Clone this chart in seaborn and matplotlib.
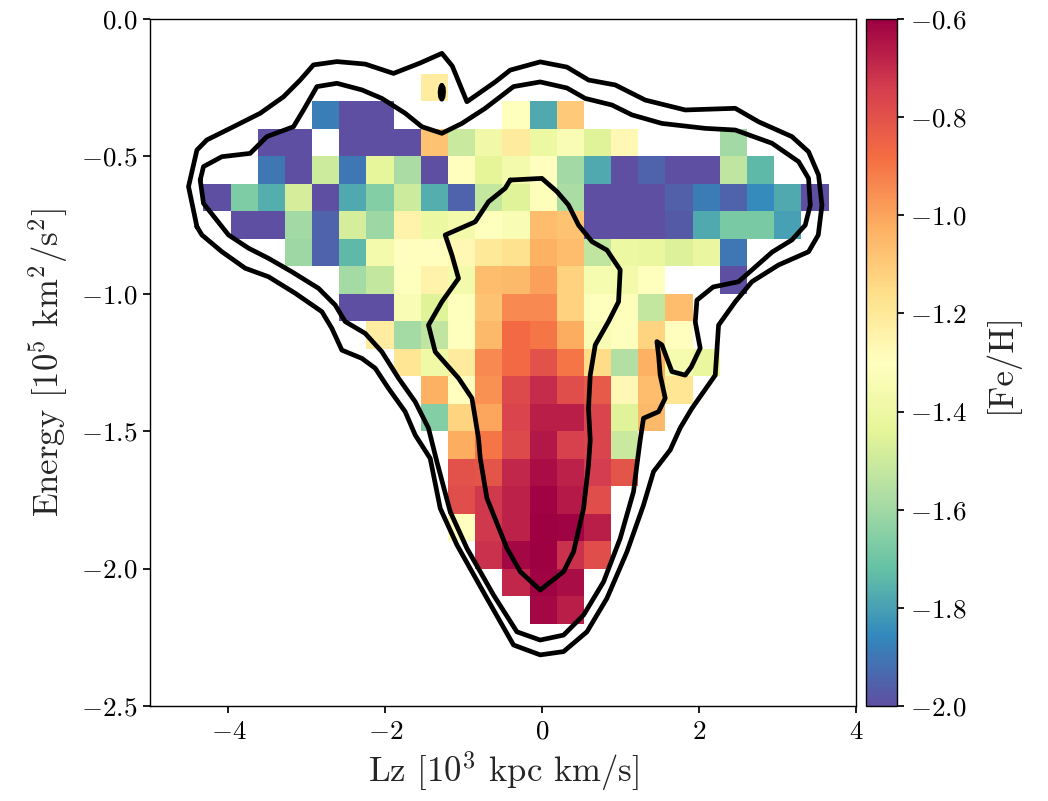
import numpy as np
import matplotlib
matplotlib.use("Agg")
import matplotlib.pyplot as plt
import seaborn as sns

_ = np.nan

# ---- binned mean [Fe/H] in the (Lz, Energy) plane ----
lz_edges = np.linspace(-4.32, 3.65, 24)      # 10^3 kpc km/s
energy_edges = np.linspace(-0.2, -2.2, 21)   # 10^5 km^2/s^2 (top row first)

feh_rows = [
    [_, _, _, _, _, _, _, _, -1.22, _, _, _, _, _, _, _, _, _, _, _, _, _, _],
    [_, _, _, _, -1.88, -2.0, -2.0, _, _, _, _, -1.31, -1.78, -1.10, _, _, _, _, _, _, _, _, _],
    [_, _, -2.0, -2.0, _, -2.0, -2.0, -2.0, -1.08, -1.51, -1.38, -1.21, -1.40, -1.34, -1.45, -1.27, _, _, _, -1.60, _, _, _],
    [_, _, -1.90, -2.0, -1.50, -1.90, -1.43, -1.58, -2.0, -1.30, -1.44, -1.37, -1.30, -1.60, -1.78, -2.0, -1.95, -2.0, -2.0, -1.53, -1.74, _, _],
    [-2.0, -1.67, -1.77, -1.48, -2.0, -1.78, -1.66, -1.50, -1.77, -1.95, -1.52, -1.45, -1.32, -1.58, -2.0, -2.0, -2.0, -1.96, -1.89, -1.95, -1.85, -1.78, -2.0],
    [_, -2.0, -2.0, -1.60, -1.95, -1.48, -1.61, -1.24, -1.40, -1.37, -1.31, -1.34, -1.06, -1.08, -2.0, -2.0, -2.0, -1.97, -1.78, -1.68, -1.68, -1.80, _],
    [_, _, _, -1.61, -1.95, -1.74, -1.37, -1.30, -1.30, -1.27, -1.20, -1.17, -1.03, -1.06, -1.53, -1.40, -1.42, -1.46, -1.41, -1.90, _, _, _],
    [_, _, _, _, _, -1.59, -1.52, -1.31, -1.24, -1.37, -1.06, -1.05, -0.99, -1.12, -1.36, -1.37, -1.31, _, _, -2.0, _, _, _],
    [_, _, _, _, _, -2.0, -2.0, -1.34, -1.45, -1.31, -1.08, -0.94, -0.94, -1.12, -1.31, -1.32, -1.52, -1.06, _, _, _, _, _],
    [_, _, _, _, _, _, -1.22, -1.59, -1.53, -1.31, -1.05, -0.87, -0.90, -1.02, -1.34, -1.31, -1.13, -1.30, _, _, _, _, _],
    [_, _, _, _, _, _, _, -1.19, -1.39, -1.21, -0.94, -0.87, -0.80, -0.90, -1.15, -1.56, -1.03, -1.36, -1.42, _, _, _, _],
    [_, _, _, _, _, _, _, _, -1.03, -1.30, -0.96, -0.78, -0.70, -0.79, -0.82, -1.27, -1.06, -1.19, _, _, _, _, _],
    [_, _, _, _, _, _, _, _, -1.66, -1.13, -1.00, -0.76, -0.67, -0.67, -0.76, -1.45, -1.05, _, _, _, _, _, _],
    [_, _, _, _, _, _, _, _, _, -1.02, -0.90, -0.78, -0.65, -0.75, -0.76, -1.51, _, _, _, _, _, _, _],
    [_, _, _, _, _, _, _, _, _, -0.80, -0.81, -0.69, -0.63, -0.68, -0.74, -0.81, _, _, _, _, _, _, _],
    [_, _, _, _, _, _, _, _, _, -0.79, -0.73, -0.68, -0.61, -0.66, -0.79, _, _, _, _, _, _, _, _],
    [_, _, _, _, _, _, _, _, _, -1.30, -0.73, -0.68, -0.60, -0.61, -0.67, _, _, _, _, _, _, _, _],
    [_, _, _, _, _, _, _, _, _, _, -0.71, -0.62, -0.60, -0.71, -0.79, _, _, _, _, _, _, _, _],
    [_, _, _, _, _, _, _, _, _, _, _, -0.69, -0.61, -0.63, _, _, _, _, _, _, _, _, _],
    [_, _, _, _, _, _, _, _, _, _, _, _, -0.62, -0.67, _, _, _, _, _, _, _, _, _],
]

# ---- density contours (traced) ----
outer_lz = [-4.402, -4.509, -4.402, -4.275, -3.936, -3.595, -3.298, -3.085, -2.916, -2.617,
            -2.257, -1.896, -1.555, -1.279, -1.147, -0.960, -0.599, -0.408, -0.026, 0.315,
            0.590, 0.931, 1.313, 1.823, 2.461, 2.758, 3.183, 3.395, 3.523, 3.566,
            3.519, 3.395, 3.013, 2.673, 2.461, 2.248, 2.206, 1.908, 1.759, 1.632,
            1.419, 1.291, 1.080, 0.825, 0.570, 0.272, -0.026, -0.366, -0.705, -1.087,
            -1.300, -1.428, -1.619, -1.747, -1.960, -2.129, -2.299, -2.554, -2.681, -2.809,
            -3.149, -3.489, -3.786, -4.083, -4.338]
outer_e = [-0.756, -0.610, -0.477, -0.440, -0.392, -0.343, -0.283, -0.222, -0.167, -0.155,
           -0.164, -0.198, -0.160, -0.125, -0.171, -0.301, -0.229, -0.186, -0.156, -0.175,
           -0.222, -0.240, -0.295, -0.331, -0.325, -0.374, -0.428, -0.483, -0.568, -0.677,
           -0.786, -0.847, -0.895, -0.956, -1.029, -1.114, -1.296, -1.417, -1.488, -1.568,
           -1.647, -1.769, -1.939, -2.108, -2.230, -2.302, -2.314, -2.278, -2.108, -1.914,
           -1.781, -1.599, -1.514, -1.429, -1.344, -1.271, -1.235, -1.205, -1.126, -1.065,
           -0.998, -0.938, -0.907, -0.847, -0.786]

middle_lz = [-4.360, -4.318, -4.083, -3.723, -3.510, -3.171, -3.043, -2.872, -2.617, -2.299,
             -2.044, -1.747, -1.534, -1.279, -1.024, -0.727, -0.366, -0.026, 0.315, 0.548,
             0.889, 1.144, 1.526, 2.078, 2.461, 2.928, 3.268, 3.395, 3.417, 3.353,
             3.183, 2.932, 2.503, 2.180, 1.972, 1.951, 2.014, 1.900, 1.823, 1.653,
             1.526, 1.462, 1.483, 1.504, 1.568, 1.483, 1.291, 1.249, 1.207, 1.164,
             0.994, 0.782, 0.527, 0.272, -0.026, -0.323, -0.621, -0.960, -1.173, -1.343,
             -1.450, -1.619, -1.832, -2.044, -2.257, -2.512, -2.639, -2.852, -3.191, -3.489,
             -3.744, -3.999, -4.318]
middle_e = [-0.586, -0.537, -0.501, -0.489, -0.428, -0.392, -0.331, -0.246, -0.234, -0.258,
            -0.289, -0.343, -0.392, -0.416, -0.380, -0.325, -0.246, -0.229, -0.251, -0.289,
            -0.313, -0.349, -0.380, -0.398, -0.404, -0.452, -0.519, -0.580, -0.677, -0.750,
            -0.804, -0.848, -0.956, -0.975, -1.023, -1.103, -1.198, -1.266, -1.296, -1.283,
            -1.186, -1.174, -1.223, -1.296, -1.380, -1.429, -1.453, -1.532, -1.623, -1.720,
            -1.890, -2.048, -2.169, -2.242, -2.260, -2.230, -2.096, -1.926, -1.793, -1.611,
            -1.489, -1.393, -1.307, -1.211, -1.144, -1.101, -1.041, -0.980, -0.920, -0.871,
            -0.834, -0.786, -0.671]

inner_lz = [-0.408, -0.004, 0.187, 0.335, 0.463, 0.634, 0.825, 0.994, 0.973, 0.845,
            0.676, 0.612, 0.590, 0.612, 0.590, 0.527, 0.399, 0.272, -0.026, -0.280,
            -0.450, -0.705, -0.790, -0.812, -0.896, -1.067, -1.364, -1.450, -1.279, -1.067,
            -1.151, -1.237, -0.854, -0.685, -0.472]
inner_e = [-0.586, -0.580, -0.628, -0.677, -0.750, -0.810, -0.841, -0.913, -1.029, -1.101,
           -1.186, -1.296, -1.417, -1.532, -1.623, -1.781, -1.939, -2.011, -2.078, -2.011,
           -1.926, -1.744, -1.599, -1.526, -1.380, -1.307, -1.211, -1.114, -1.029, -0.944,
           -0.859, -0.786, -0.738, -0.665, -0.616]

blob_lz = [-1.28, -1.262, -1.258, -1.265, -1.28, -1.297, -1.302, -1.295]
blob_e = [-0.242, -0.250, -0.266, -0.283, -0.292, -0.283, -0.266, -0.250]

x_ticks = [-4, -2, 0, 2, 4]
y_ticks = [-2.5, -2.0, -1.5, -1.0, -0.5, 0.0]
cbar_ticks = [-2.0, -1.8, -1.6, -1.4, -1.2, -1.0, -0.8, -0.6]

# ---- style ----
sns.set_theme(style="ticks")
plt.rcParams.update({
    "font.family": ["cmr10"],
    "mathtext.fontset": "cm",
    "axes.formatter.use_mathtext": True,
    "axes.edgecolor": "black",
    "axes.linewidth": 1.0,
    "xtick.color": "black",
    "ytick.color": "black",
    "xtick.direction": "out",
    "ytick.direction": "out",
    "xtick.major.size": 5,
    "ytick.major.size": 5,
    "xtick.major.pad": 5,
    "ytick.major.pad": 4,
    "axes.unicode_minus": True,
    "lines.solid_joinstyle": "round",
    "lines.solid_capstyle": "round",
})

fig = plt.figure(figsize=(10.48, 8.01), dpi=100)
ax = fig.add_axes([150 / 1048, 95 / 801, 706 / 1048, 687 / 801])
cax = fig.add_axes([866 / 1048, 95 / 801, 31 / 1048, 687 / 801])

feh = np.ma.masked_invalid(np.array(feh_rows, dtype=float))
mesh = ax.pcolormesh(lz_edges, energy_edges, feh, cmap="Spectral_r",
                     vmin=-2.0, vmax=-0.6, shading="flat")

for cx, cy in [(outer_lz, outer_e), (middle_lz, middle_e), (inner_lz, inner_e), (blob_lz, blob_e)]:
    xs = list(cx) + [cx[0]]
    ys = list(cy) + [cy[0]]
    sns.lineplot(x=xs, y=ys, sort=False, estimator=None, color="black",
                 linewidth=3.4, ax=ax, legend=False)

ax.set_xlim(-5, 4)
ax.set_ylim(-2.5, 0)
ax.set_xticks(x_ticks)
ax.set_yticks(y_ticks)
ax.tick_params(labelsize=19.5)
ax.set_xlabel(r"Lz [$10^3$ kpc km/s]", fontsize=25, labelpad=4)
ax.set_ylabel(r"Energy [$10^5$ km$^2$/s$^2$]", fontsize=25, labelpad=8)
for s in ax.spines.values():
    s.set_visible(True)

cbar = fig.colorbar(mesh, cax=cax)
cbar.set_ticks(cbar_ticks)
cbar.ax.tick_params(labelsize=19.5, length=5, pad=4)
cbar.set_label("[Fe/H]", fontsize=25, labelpad=12)
cbar.outline.set_linewidth(1.0)

fig.savefig("out.png", dpi=100)
